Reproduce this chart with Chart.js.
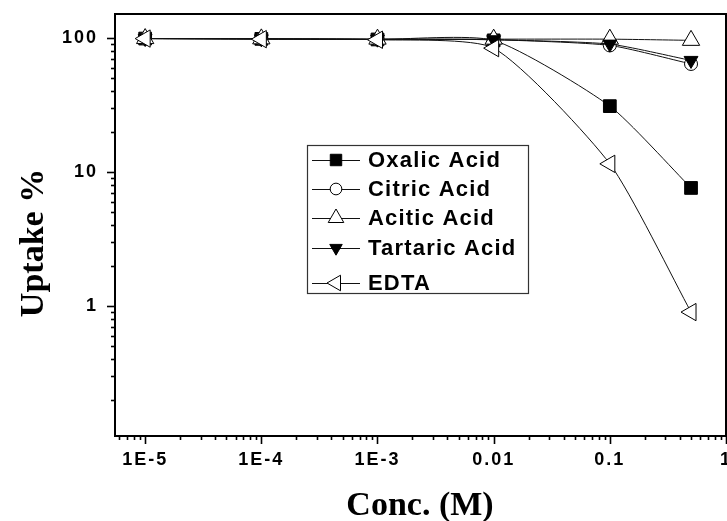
<!DOCTYPE html>
<html>
<head>
<meta charset="utf-8">
<script src="https://cdn.jsdelivr.net/npm/chart.js@4.4.0/dist/chart.umd.min.js"></script>
<style>
html, body { margin: 0; padding: 0; background: #fff; overflow: hidden; width: 727px; height: 521px; }
canvas { display: block; }
</style>
</head>
<body>
<canvas id="uptakeChart" width="760" height="521"></canvas>
<script>
// concentration (M) and uptake (%) for each eluent
const conc = [1e-5, 1e-4, 1e-3, 0.01, 0.1, 0.5];
const oxalic = [99, 98.5, 97.5, 96, 31, 7.6];
const citric = [99, 98.5, 97.5, 97, 88, 64];
const acitic = [99, 98.5, 98, 98, 98, 96];
const tartaric = [99, 98.5, 98, 97, 90, 68];
const edta = [99, 98, 97, 84, 11.5, 0.9];
const seriesNames = ['Oxalic Acid', 'Citric Acid', 'Acitic Acid', 'Tartaric Acid', 'EDTA'];
const xTickLabels = { '-5': '1E-5', '-4': '1E-4', '-3': '1E-3', '-2': '0.01', '-1': '0.1', '0': '1' };
const yTickLabels = { '0': '1', '1': '10', '2': '100' };

function toPoints(values) {
  return values.map((v, i) => ({ x: conc[i], y: v }));
}

function decade(v) {
  const l = Math.log10(v);
  return Math.abs(l - Math.round(l)) < 1e-6 ? String(Math.round(l)) : null;
}

const markers = [
  { pointStyle: 'rect', radius: 9, rotation: 0, fill: '#000' },
  { pointStyle: 'circle', radius: 6.5, rotation: 0, fill: '#fff' },
  { pointStyle: 'triangle', radius: 10, rotation: 0, fill: '#fff' },
  { pointStyle: 'triangle', radius: 8, rotation: 180, fill: '#000' },
  { pointStyle: 'triangle', radius: 10, rotation: 270, fill: '#fff' }
];

const allSeries = [oxalic, citric, acitic, tartaric, edta];

const datasets = allSeries.map((vals, i) => ({
  label: seriesNames[i],
  data: toPoints(vals),
  borderColor: '#111',
  borderWidth: 1,
  pointStyle: markers[i].pointStyle,
  pointRadius: markers[i].radius,
  pointRotation: markers[i].rotation,
  pointBackgroundColor: markers[i].fill,
  pointBorderColor: '#000',
  pointBorderWidth: 1,
  tension: 0.2,
  order: allSeries.length - i,
  clip: false
}));

const tickFont = { family: '"Liberation Sans", Arial, sans-serif', size: 18, weight: 'bold' };

function line(ctx, x1, y1, x2, y2) {
  ctx.beginPath();
  ctx.moveTo(x1, y1);
  ctx.lineTo(x2, y2);
  ctx.stroke();
}

const framePlugin = {
  id: 'framePlugin',
  beforeDraw(chart) {
    chart.ctx.letterSpacing = '2px';
  },
  afterDraw(chart) {
    const ctx = chart.ctx;
    const area = chart.chartArea;
    const xs = chart.scales.x;
    const ys = chart.scales.y;
    ctx.save();
    ctx.letterSpacing = '0px';
    ctx.strokeStyle = '#000';
    ctx.lineWidth = 2;
    ctx.strokeRect(area.left, area.top, area.right - area.left, area.bottom - area.top);

    // outward tick marks, long on decades
    ctx.lineWidth = 1.6;
    for (let e = -6; e <= 0; e++) {
      for (let m = 1; m <= 9; m++) {
        const v = m * Math.pow(10, e);
        if (v < xs.min || v > xs.max) continue;
        const px = Math.round(xs.getPixelForValue(v)) + 0.5;
        line(ctx, px, area.bottom, px, area.bottom + (m === 1 ? 8 : 4));
      }
    }
    for (let e = -1; e <= 2; e++) {
      for (let m = 1; m <= 9; m++) {
        const v = m * Math.pow(10, e);
        if (v < ys.min || v > ys.max) continue;
        const py = Math.round(ys.getPixelForValue(v)) + 0.5;
        line(ctx, area.left, py, area.left - (m === 1 ? 8 : 4), py);
      }
    }

    // axis titles
    ctx.fillStyle = '#000';
    ctx.font = 'bold 34px "Liberation Serif", "Times New Roman", serif';
    ctx.textAlign = 'center';
    ctx.textBaseline = 'alphabetic';
    ctx.fillText('Conc. (M)', 420, 515);
    ctx.save();
    ctx.translate(43, 243);
    ctx.rotate(-Math.PI / 2);
    ctx.fillText('Uptake %', 0, 0);
    ctx.restore();

    // legend box inside the plot
    const box = { left: 307.5, top: 145.5, right: 528.5, bottom: 293.5 };
    const rows = [160, 189, 218, 248, 283];
    ctx.lineWidth = 1.2;
    ctx.strokeStyle = '#333';
    ctx.strokeRect(box.left, box.top, box.right - box.left, box.bottom - box.top);
    ctx.font = 'bold 22px "Liberation Sans", Arial, sans-serif';
    ctx.letterSpacing = '1.2px';
    ctx.textAlign = 'left';
    ctx.textBaseline = 'middle';
    chart.data.datasets.forEach((ds, i) => {
      const y = rows[i];
      ctx.strokeStyle = '#111';
      ctx.lineWidth = 1;
      line(ctx, 312, y + 0.5, 360, y + 0.5);
      ctx.fillStyle = markers[i].fill;
      ctx.strokeStyle = '#000';
      ctx.lineWidth = 1;
      Chart.helpers.drawPoint(ctx, {
        pointStyle: markers[i].pointStyle,
        radius: markers[i].radius * 0.9,
        rotation: markers[i].rotation,
        borderWidth: 1
      }, 336, y);
      ctx.fillStyle = '#000';
      ctx.fillText(ds.label, 368, y + 1);
    });
    ctx.restore();
  }
};

new Chart(document.getElementById('uptakeChart'), {
  type: 'line',
  data: { datasets },
  options: {
    responsive: false,
    animation: false,
    events: [],
    layout: { padding: { left: 0, top: 14, right: 34, bottom: 0 } },
    plugins: { legend: { display: false }, tooltip: { enabled: false } },
    scales: {
      x: {
        type: 'logarithmic',
        min: 5.5e-6,
        max: 1,
        grid: { display: false, drawTicks: false },
        border: { display: false },
        ticks: {
          autoSkip: false,
          maxRotation: 0,
          padding: 13,
          color: '#000',
          font: tickFont,
          callback: (v) => { const d = decade(v); return d !== null && xTickLabels[d] ? xTickLabels[d] : ''; }
        },
        afterFit: (s) => { s.height = 85; s.paddingLeft = 0; s.paddingRight = 0; }
      },
      y: {
        type: 'logarithmic',
        min: 0.107,
        max: 151,
        grid: { display: false, drawTicks: false },
        border: { display: false },
        ticks: {
          autoSkip: false,
          padding: 17,
          color: '#000',
          font: tickFont,
          callback: (v) => { const d = decade(v); return d !== null && yTickLabels[d] ? yTickLabels[d] : ''; }
        },
        afterFit: (s) => { s.width = 115; s.paddingTop = 0; s.paddingBottom = 0; }
      }
    }
  },
  plugins: [framePlugin]
});
</script>
</body>
</html>
